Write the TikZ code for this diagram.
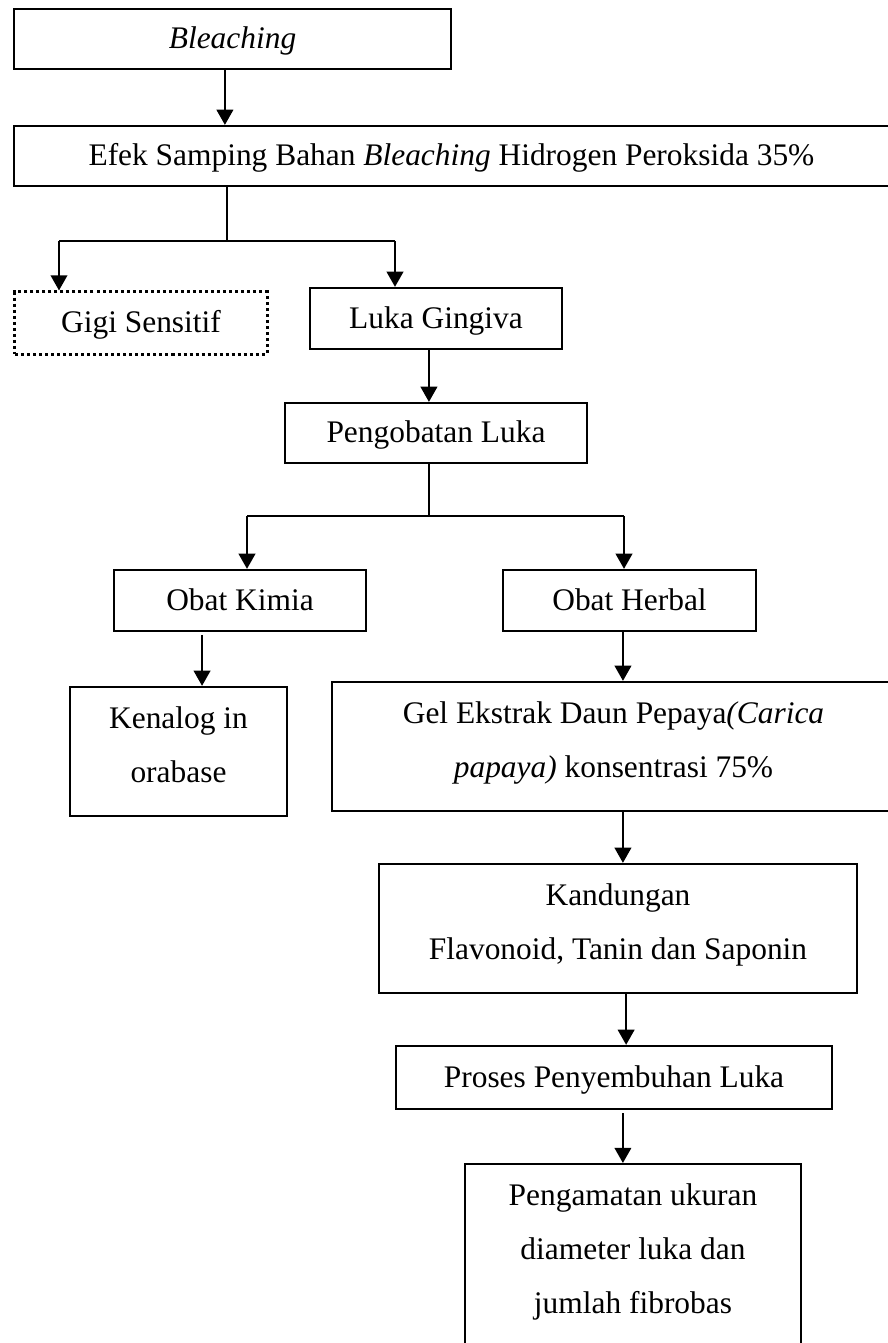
\documentclass[tikz,border=0pt]{standalone}
\usepackage{fontspec}
\setmainfont{Liberation Serif}
\usetikzlibrary{arrows.meta}

% struts for the two/three line boxes
\newcommand{\atas}{\rule{0pt}{8.5pt}}
\newcommand{\bawah}{\rule[-5.5pt]{0pt}{5.5pt}}

\begin{document}
\begin{tikzpicture}[x=0.382pt,y=-0.382pt,
    font=\fontsize{12}{20.7}\selectfont,
    kotak/.style={draw=black,line width=0.85pt,inner sep=0pt},
    satu/.style={kotak,text height=8.5pt,text depth=0.9pt},
    dua/.style={kotak,align=center},
    titik/.style={satu,line width=1.15pt,dash pattern=on 1.15pt off 1.15pt},
    panah/.style={-{Triangle[width=6.3pt,length=5.8pt]},line width=0.9pt},
    garis/.style={line width=0.6pt}]
    \useasboundingbox (0,0) rectangle (887,1343);

    \node[satu,minimum width=166.9pt,minimum height=22.9pt] (bleach) at (232.5,39) {\textit{Bleaching}};
    \node[satu,minimum width=334.3pt,minimum height=22.9pt] (efek) at (451.5,156) {Efek Samping Bahan \textit{Bleaching} Hidrogen Peroksida 35\%};
    \node[titik,minimum width=96.3pt,minimum height=23.7pt] (gigi) at (141,323) {Gigi Sensitif};
    \node[satu,minimum width=96.3pt,minimum height=23.3pt] (luka) at (436,318.5) {Luka Gingiva};
    \node[satu,minimum width=115.4pt,minimum height=22.9pt] (obati) at (436,433) {Pengobatan Luka};
    \node[satu,minimum width=96.3pt,minimum height=23.3pt] (kimia) at (240,600.5) {Obat Kimia};
    \node[satu,minimum width=96.6pt,minimum height=23.3pt] (herbal) at (629.5,600.5) {Obat Herbal};
    \node[dua,minimum width=82.9pt,minimum height=49.3pt] (kenalog) at (178.5,751.5) {\atas Kenalog in\\orabase\bawah};
    \node[dua,minimum width=215.1pt,minimum height=49.3pt] (gel) at (613.5,746.5) {\atas Gel Ekstrak Daun Pepaya\textit{(Carica}\\\textit{papaya)} konsentrasi 75\%\bawah};
    \node[dua,minimum width=182.6pt,minimum height=49.3pt] (isi) at (618,928.5) {\atas Kandungan\\Flavonoid, Tanin dan Saponin\bawah};
    \node[satu,minimum width=166.6pt,minimum height=24.1pt] (sembuh) at (614,1077.5) {Proses Penyembuhan Luka};
    \node[dua,anchor=north,minimum width=128.4pt,inner ysep=7.2pt] (amati) at (633,1163) {\atas Pengamatan ukuran\\diameter luka dan\\jumlah fibrobas\rule[-25pt]{0pt}{0pt}};

    % cabang pertama
    \coordinate (c1) at (227,241);
    \coordinate (c1a) at (59,241);
    \coordinate (c1b) at (395,241);
    % cabang kedua
    \coordinate (c2) at (429,516);
    \coordinate (c2a) at (247,516);
    \coordinate (c2b) at (624,516);

    \draw[panah] ([xshift=-2.9pt]bleach.south) -- ([xshift=-2.9pt]bleach.south |- efek.north);
    \draw[garis] (efek.south -| c1) -- (c1);
    \draw[garis] (c1a) -- (c1b);
    \draw[panah] (c1a) -- (c1a |- gigi.north);
    \draw[panah] (c1b) -- (c1b |- luka.north);
    \draw[panah] ([xshift=-2.7pt]luka.south) -- ([xshift=-2.7pt]luka.south |- obati.north);
    \draw[garis] (obati.south -| c2) -- (c2);
    \draw[garis] (c2a) -- (c2b);
    \draw[panah] (c2a) -- (c2a |- kimia.north);
    \draw[panah] (c2b) -- (c2b |- herbal.north);
    \draw[panah,shorten <=1.1pt] ([xshift=-14.5pt]kimia.south) -- ([xshift=-14.5pt]kimia.south |- kenalog.north);
    \draw[panah] ([xshift=-2.5pt]herbal.south) -- ([xshift=-2.5pt]herbal.south |- gel.north);
    \draw[panah] ([xshift=3.6pt]gel.south) -- ([xshift=3.6pt]gel.south |- isi.north);
    \draw[panah] ([xshift=3.1pt]isi.south) -- ([xshift=3.1pt]isi.south |- sembuh.north);
    \draw[panah,shorten <=1.1pt] ([xshift=3.4pt]sembuh.south) -- ([xshift=3.4pt]sembuh.south |- amati.north);
\end{tikzpicture}
\end{document}
